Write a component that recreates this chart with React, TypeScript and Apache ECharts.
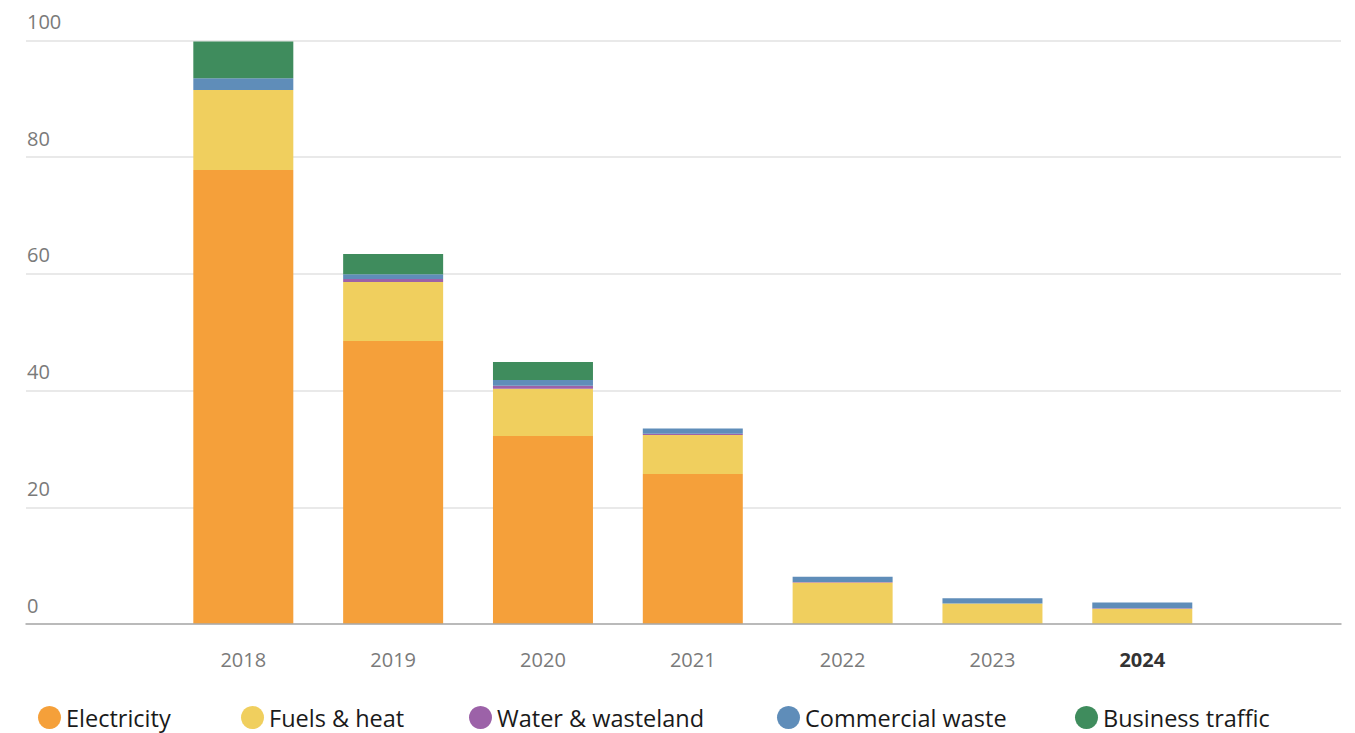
import React, { useEffect, useRef } from "react";
import * as echarts from "echarts";

// Emissions by source, stacked per year
const categories = ["2018", "2019", "2020", "2021", "2022", "2023", "2024"];
const electricity = [77.8, 48.5, 32.2, 25.7, 0, 0, 0];
const fuelsHeat = [13.7, 10.1, 8.1, 6.7, 7.1, 3.5, 2.6];
const waterWasteland = [0, 0.5, 0.5, 0.2, 0.1, 0, 0.1];
const commercialWaste = [2.0, 0.8, 1.0, 0.9, 0.9, 0.9, 1.0];
const businessTraffic = [6.3, 3.5, 3.1, 0, 0, 0, 0];
const yTicks = [0, 20, 40, 60, 80, 100];

const seriesDefs = [
  { name: "Electricity", data: electricity, color: "#F5A03A" },
  { name: "Fuels & heat", data: fuelsHeat, color: "#F0CF5E" },
  { name: "Water & wasteland", data: waterWasteland, color: "#9C62A8" },
  { name: "Commercial waste", data: commercialWaste, color: "#5F8DB9" },
  { name: "Business traffic", data: businessTraffic, color: "#3F8C5D" },
];

const legendLefts = [38, 241, 469, 777, 1075];
const FONT = "'Open Sans', 'Noto Sans', sans-serif";

export default function App() {
  const ref = useRef<HTMLDivElement>(null);

  useEffect(() => {
    if (!ref.current) return;
    const chart = echarts.init(ref.current, undefined, { renderer: "svg" });

    const top = 40.3;
    const bottom = 733 - 624;

    chart.setOption({
      animation: false,
      backgroundColor: "#ffffff",
      textStyle: { fontFamily: FONT },
      grid: [
        { left: 26, right: 14, top, bottom },
        { left: 168.4, right: 137.8, top, bottom },
      ],
      xAxis: [
        {
          type: "category",
          gridIndex: 0,
          data: [""],
          axisLine: { show: true, lineStyle: { color: "#aaaaaa", width: 1.5 } },
          axisTick: { show: false },
          axisLabel: { show: false },
          splitLine: { show: false },
          z: 10,
        },
        {
          type: "category",
          gridIndex: 1,
          data: categories.map((c, i) =>
            i === categories.length - 1
              ? { value: c, textStyle: { fontWeight: "bold", color: "#333333" } }
              : c
          ),
          axisLine: { show: false },
          axisTick: { show: false },
          axisLabel: {
            color: "#7a7a7a",
            fontSize: 20,
            fontFamily: FONT,
            margin: 25,
          },
        },
      ],
      yAxis: [
        {
          type: "value",
          gridIndex: 0,
          min: yTicks[0],
          max: yTicks[yTicks.length - 1],
          interval: 20,
          axisLine: { show: false },
          axisTick: { show: false },
          splitLine: { show: true, lineStyle: { color: "#e2e2e2", width: 1.5 } },
          axisLabel: {
            inside: true,
            align: "left",
            verticalAlign: "bottom",
            margin: 1,
            padding: [0, 0, 9, 0],
            color: "#7a7a7a",
            fontSize: 20,
            fontFamily: FONT,
          },
        },
        {
          type: "value",
          gridIndex: 1,
          min: yTicks[0],
          max: yTicks[yTicks.length - 1],
          interval: 20,
          show: false,
          splitLine: { show: false },
        },
      ],
      legend: seriesDefs.map((s, i) => ({
        data: [s.name],
        left: legendLefts[i],
        top: 705.5,
        padding: 0,
        itemWidth: 23,
        itemHeight: 23,
        itemGap: 0,
        icon: "circle",
        selectedMode: false,
        textStyle: { color: "#1a1a1a", fontSize: 23.5, fontFamily: FONT, padding: [9, 0, 0, 0] },
      })),
      series: seriesDefs.map((s) => ({
        name: s.name,
        type: "bar",
        stack: "total",
        xAxisIndex: 1,
        yAxisIndex: 1,
        barWidth: 100,
        data: s.data,
        itemStyle: { color: s.color },
        emphasis: { disabled: true },
      })),
    });

    return () => chart.dispose();
  }, []);

  return (
    <div
      ref={ref}
      style={{ position: "fixed", left: 0, top: 0, width: 1355, height: 733 }}
    />
  );
}
